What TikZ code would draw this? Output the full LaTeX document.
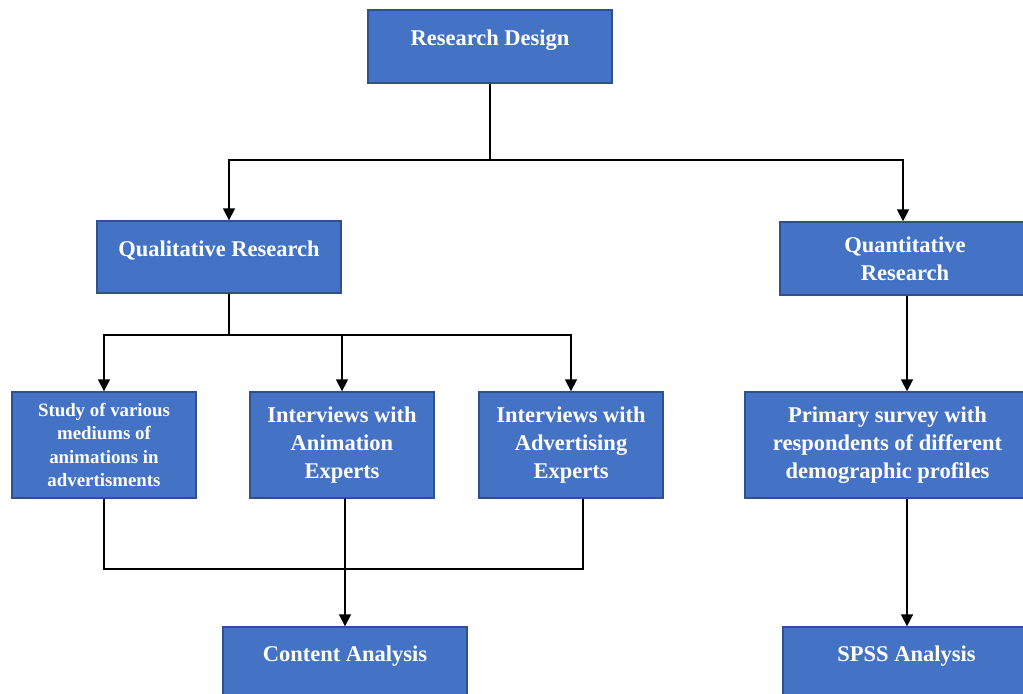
\documentclass[tikz,border=0pt]{standalone}
\usepackage{fontspec}
\setmainfont{Liberation Serif}
\usetikzlibrary{arrows.meta}

\definecolor{boxblue}{HTML}{4472C4}
\definecolor{boxedge}{HTML}{2F528F}

\tikzset{
  box/.style={draw=boxedge, line width=1pt, fill=boxblue, text=white, align=center,
    inner sep=0pt, font=\fontsize{16}{20}\selectfont\bfseries},
  smallbox/.style={box, font=\fontsize{13.4}{16.7}\selectfont\bfseries},
  lift/.style={text depth=#1},
  link/.style={line width=1.2pt, black},
  arr/.style={link, -{Triangle[length=8.5pt,width=8.5pt]}}
}

\begin{document}
\begin{tikzpicture}[x=0.025cm, y=-0.025cm]
        \useasboundingbox (0,0) rectangle (1023,693);

        % top level
        \node[box, lift=12pt, minimum width=244*0.025cm, minimum height=73*0.025cm] (design) at (490,46.5) {Research Design};

        % second level
        \node[box, lift=12pt, minimum width=244*0.025cm, minimum height=72*0.025cm] (qual) at (219,257) {Qualitative Research};
        \node[box, minimum width=250*0.025cm, minimum height=73*0.025cm] (quant) at (905,258.5) {Quantitative\\Research};

        % third level
        \node[smallbox, minimum width=184*0.025cm, minimum height=106*0.025cm] (study) at (104,445) {Study of various\\mediums of\\animations in\\advertisments};
        \node[box, minimum width=184*0.025cm, minimum height=106*0.025cm] (anim) at (342,445) {Interviews with\\Animation\\Experts};
        \node[box, minimum width=184*0.025cm, minimum height=106*0.025cm] (adv) at (571,445) {Interviews with\\Advertising\\Experts};
        \node[box, minimum width=285*0.025cm, minimum height=106*0.025cm] (survey) at (887.5,445) {Primary survey with\\respondents of different\\demographic profiles};

        % bottom level
        \node[box, lift=10pt, minimum width=244*0.025cm, minimum height=68*0.025cm] (content) at (345,661) {Content Analysis};
        \node[box, lift=10pt, minimum width=247*0.025cm, minimum height=68*0.025cm] (spss) at (906.5,661) {SPSS Analysis};

        % connectors
        \coordinate (split) at (490,160);
        \coordinate (qsplit) at (229,335);
        \coordinate (join) at (345,569);

        \draw[link] (design.south) -- (split);
        \draw[arr] (split) -| ([xshift=0.25cm]qual.north);
        \draw[arr] (split) -| ([xshift=-0.05cm]quant.north);

        \draw[link] ([xshift=0.25cm]qual.south) -- (qsplit);
        \draw[arr] (qsplit) -| (study.north);
        \draw[arr] (qsplit) -| (anim.north);
        \draw[arr] (qsplit) -| (adv.north);

        \draw[link] (study.south) |- (join);
        \draw[link] ([xshift=0.3cm]adv.south) |- (join);
        \draw[arr] ([xshift=0.075cm]anim.south) -- (content.north);

        \draw[arr] ([xshift=0.4875cm]survey.north |- quant.south) -- ([xshift=0.4875cm]survey.north);
        \draw[arr] ([xshift=0.4875cm]survey.south) -- ([xshift=0.4875cm]survey.south |- spss.north);
\end{tikzpicture}
\end{document}
